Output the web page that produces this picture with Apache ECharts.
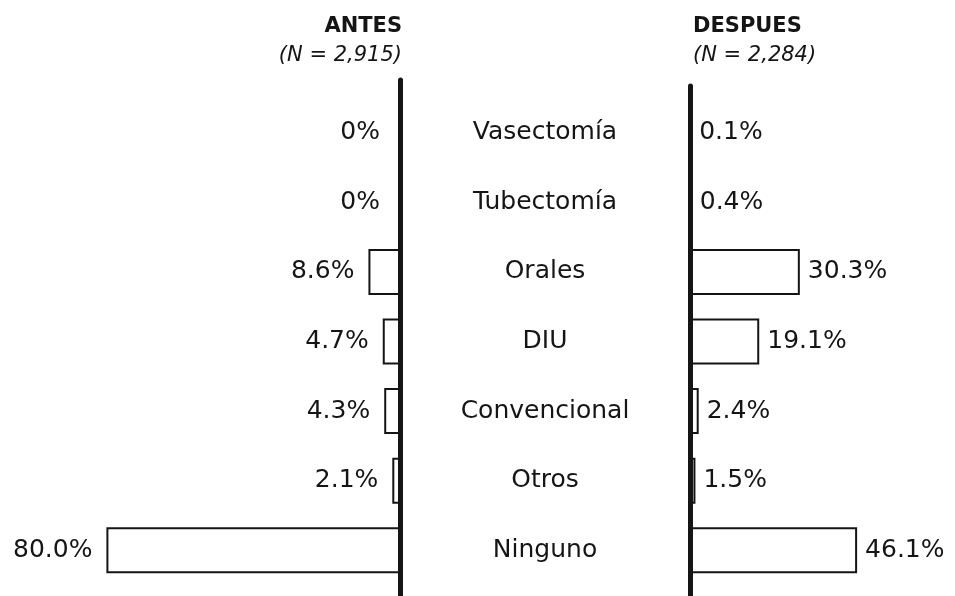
<!DOCTYPE html>
<html>
<head>
<meta charset="utf-8">
<script src="https://cdn.jsdelivr.net/npm/echarts@6/dist/echarts.min.js"></script>
<style>
html, body { margin: 0; background: #fff; }
#main { width: 955px; height: 596px; }
</style>
</head>
<body>
<div id="main"></div>
<script>
var myChart = echarts.init(document.getElementById('main'));

// metodos anticonceptivos, porcentaje de usuarias
var metodos = ['Vasectomía', 'Tubectomía', 'Orales', 'DIU', 'Convencional', 'Otros', 'Ninguno'];
var antes = [0, 0, 8.6, 4.7, 4.3, 2.1, 80.0];
var despues = [0.1, 0.4, 30.3, 19.1, 2.4, 1.5, 46.1];

var ink = '#151515';
var txtFont = 'DejaVu Sans';

function pct(v) {
    return v === 0 ? '0%' : v.toFixed(1) + '%';
}

var barStyle = {
    color: '#fff',
    borderColor: ink,
    borderWidth: 2
};

var headStyle = { color: ink, fontFamily: txtFont, fontWeight: 'bold', fontSize: 21 };
var subStyle = { color: ink, fontFamily: txtFont, fontStyle: 'italic', fontSize: 21 };

myChart.setOption({
    backgroundColor: '#fff',
    animation: false,
    title: [{
        text: 'ANTES',
        subtext: '(N = 2,915)',
        left: 397,
        textAlign: 'right',
        top: 11,
        itemGap: 8,
        textStyle: headStyle,
        subtextStyle: subStyle
    }, {
        text: 'DESPUES',
        subtext: '(N = 2,284)',
        left: 688,
        top: 11,
        itemGap: 8,
        textStyle: headStyle,
        subtextStyle: subStyle
    }],
    grid: [
        { left: 33, width: 367, top: 98, height: 487 },
        { left: 690, width: 261, top: 98, height: 487 },
        { left: 33, width: 367, top: 80, bottom: 0 },
        { left: 690, width: 261, top: 86, bottom: 0 }
    ],
    xAxis: [
        { gridIndex: 0, type: 'value', min: 0, max: 100, inverse: true, show: false },
        { gridIndex: 1, type: 'value', min: 0, max: 72, show: false },
        { gridIndex: 2, type: 'value', min: 0, max: 1, show: false },
        { gridIndex: 3, type: 'value', min: 0, max: 1, show: false }
    ],
    yAxis: [{
        gridIndex: 0, type: 'category', data: metodos, inverse: true,
        axisLine: { show: false }, axisTick: { show: false }, axisLabel: { show: false }
    }, {
        gridIndex: 1, type: 'category', data: metodos, inverse: true,
        axisLine: { show: false }, axisTick: { show: false },
        axisLabel: {
            align: 'center', margin: 145,
            color: ink, fontFamily: txtFont, fontSize: 25
        }
    }, {
        gridIndex: 2, type: 'category', data: metodos, position: 'right', z: 5,
        axisLine: { onZero: false, lineStyle: { color: ink, width: 5 } },
        axisTick: { show: false }, axisLabel: { show: false }
    }, {
        gridIndex: 3, type: 'category', data: metodos, position: 'left', z: 5,
        axisLine: { onZero: false, lineStyle: { color: ink, width: 5 } },
        axisTick: { show: false }, axisLabel: { show: false }
    }],
    series: [{
        name: 'Antes',
        type: 'bar',
        xAxisIndex: 0,
        yAxisIndex: 0,
        barWidth: 46,
        itemStyle: barStyle,
        label: {
            show: true,
            position: 'left',
            distance: 14,
            color: ink, fontFamily: txtFont, fontSize: 25,
            formatter: function (p) { return pct(p.value); }
        },
        data: antes.map(function (v) {
            return v === 0 ? { value: v, label: { distance: 19 } } : v;
        })
    }, {
        name: 'Despues',
        type: 'bar',
        xAxisIndex: 1,
        yAxisIndex: 1,
        barWidth: 46,
        itemStyle: barStyle,
        label: {
            show: true,
            position: 'right',
            distance: 8,
            color: ink, fontFamily: txtFont, fontSize: 25,
            formatter: function (p) { return pct(p.value); }
        },
        data: despues
    }]
});
</script>
</body>
</html>
